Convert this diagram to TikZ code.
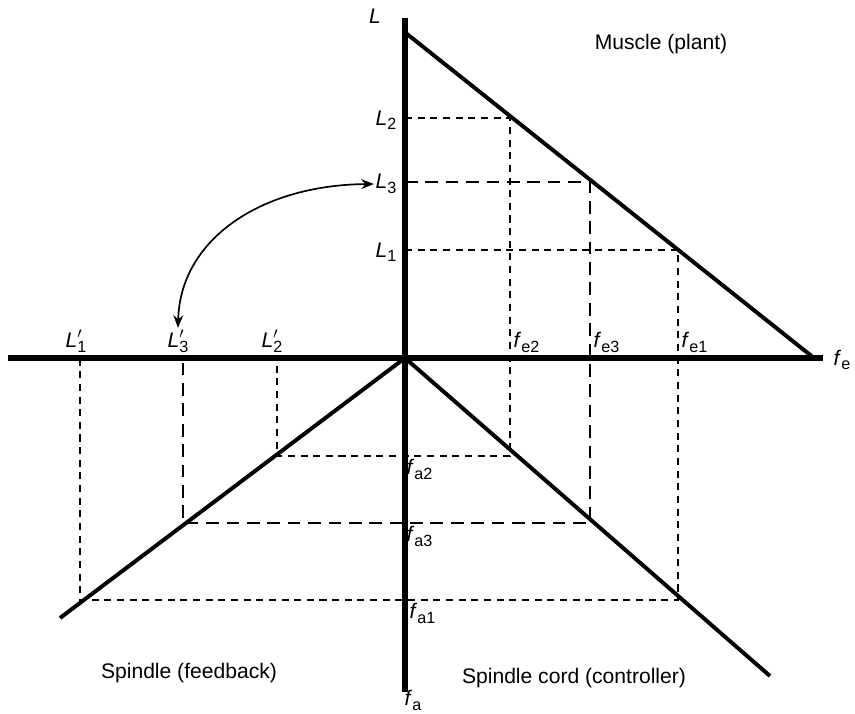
\documentclass[tikz,border=0pt]{standalone}
\usepackage{fontspec}
\setmainfont{Liberation Sans}
\usetikzlibrary{arrows.meta}
\newcommand{\lowsub}[1]{\raisebox{-0.4ex}{\fontsize{11.5}{12}\selectfont #1}}
\newcommand{\lpr}[1]{\textit{L}\rlap{\raisebox{0.2ex}{$'$}}\lowsub{#1}}
\tikzset{
  axis/.style={line width=4.3pt},
  curve/.style={line width=2.8pt},
  thindash/.style={line width=0.9pt, dash pattern=on 5pt off 4pt},
  longdash/.style={line width=1.1pt, dash pattern=on 9pt off 5.5pt},
  lbl/.style={font=\fontsize{15}{17}\selectfont, inner sep=1pt}
}
\begin{document}
\begin{tikzpicture}[x=0.025cm, y=-0.025cm]
      \useasboundingbox (0,0) rectangle (855,714);
      % Origin and corner points
      \coordinate (O) at (405,358);
      \coordinate (m2) at (510,118);
      \coordinate (m3) at (590,182);
      \coordinate (m1) at (678,250);
      \coordinate (c2) at (510,456);
      \coordinate (c3) at (590,523);
      \coordinate (c1) at (678,600);
      \coordinate (s2) at (277,456);
      \coordinate (s3) at (183,523);
      \coordinate (s1) at (80,600);
      \coordinate (p2) at (277,358);
      \coordinate (p3) at (183,358);
      \coordinate (p1) at (80,358);
      \coordinate (y2) at (405,118);
      \coordinate (y3) at (405,182);
      \coordinate (y1) at (405,250);
      % Dashed construction lines
      \draw[thindash] (y2) -- (m2) -- (c2) -- (s2) -- (p2);
      \draw[longdash] (y3) -- (m3) -- (c3) -- (s3) -- (p3);
      \draw[thindash] (y1) -- (m1) -- (c1) -- (s1) -- (p1);
      % Axes
      \draw[axis] (405,18) -- (405,692);
      \draw[axis] (8,358) -- (823,358);
      % Muscle, spindle cord and spindle lines
      \draw[curve] (407,34) -- (814,358);
      \draw[curve] (O) -- (770,676);
      \draw[curve] (O) -- (60,618);
      % Axis labels
      \node[lbl] (L) at (375,16) {\textit{L}};
      \node[lbl, anchor=east] (L2) at (398,120) {\textit{L}\lowsub{2}};
      \node[lbl, anchor=east] (L3) at (398,184) {\textit{L}\lowsub{3}};
      \node[lbl, anchor=east] (L1) at (398,252) {\textit{L}\lowsub{1}};
      \node[lbl, anchor=south] (Lp1) at (76,354) {\lpr{1}};
      \node[lbl, anchor=south] (Lp3) at (178,354) {\lpr{3}};
      \node[lbl, anchor=south] (Lp2) at (272,354) {\lpr{2}};
      \node[lbl, anchor=south west] (fe2) at (512,354) {\textit{f}\lowsub{e2}};
      \node[lbl, anchor=south west] (fe3) at (592,354) {\textit{f}\lowsub{e3}};
      \node[lbl, anchor=south west] (fe1) at (680,354) {\textit{f}\lowsub{e1}};
      \node[lbl] (fe) at (842,360) {\textit{f}\lowsub{e}};
      \node[lbl, anchor=north west] (fa2) at (405,458) {\textit{f}\lowsub{a2}};
      \node[lbl, anchor=north west] (fa3) at (405,525) {\textit{f}\lowsub{a3}};
      \node[lbl, anchor=north west] (fa1) at (408,602) {\textit{f}\lowsub{a1}};
      \node[lbl, anchor=north] (fa) at (413,689) {\textit{f}\lowsub{a}};
      % Block names
      \node[lbl] (muscle) at (661,44) {Muscle (plant)};
      \node[lbl] (spindle) at (189,673) {Spindle (feedback)};
      \node[lbl] (cord) at (574,678) {Spindle cord (controller)};
      % Mapping of L3 onto L3'
      \draw[{Stealth[length=9pt,width=7pt]}-{Stealth[length=9pt,width=7pt]}, line width=1.2pt]
        (Lp3.north) .. controls (180,240) and (260,185) .. (L3.west);
    \end{tikzpicture}
\end{document}
